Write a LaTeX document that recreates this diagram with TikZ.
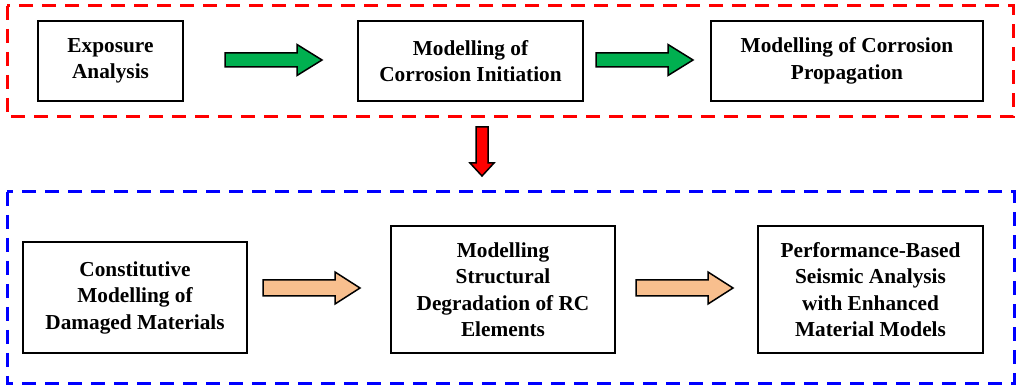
\documentclass[tikz,border=0pt]{standalone}
\usepackage{fontspec}
\setmainfont{Liberation Serif}
\usetikzlibrary{calc}
\definecolor{arrowgreen}{HTML}{00B050}
\definecolor{arrowred}{HTML}{FF0000}
\definecolor{arrowpeach}{HTML}{F8BF8E}
\definecolor{framered}{HTML}{FF0000}
\definecolor{frameblue}{HTML}{0000FF}
% horizontal block arrow: #1 tail, #2 tip, #3 shaft half-width, #4 head half-width, #5 fill
\newcommand\blockarrowright[5]{%
  \draw[blockarrow, fill=#5]
    ($(#1)+(0,-#3)$) -- ($(#2)+(-25,-#3)$) -- ($(#2)+(-25,-#4)$) -- (#2)
    -- ($(#2)+(-25,#4)$) -- ($(#2)+(-25,#3)$) -- ($(#1)+(0,#3)$) -- cycle;}
\begin{document}
\begin{tikzpicture}[x=1pt,y=-1pt,
  box/.style={draw=black, line width=2pt, fill=white, align=center,
    font=\fontsize{21.3}{26.5}\selectfont\bfseries, inner sep=0pt},
  frame/.style={line width=3pt, dash pattern=on 14pt off 9pt},
  blockarrow/.style={draw=black, line width=1.5pt, line join=miter}]
\useasboundingbox (0,0) rectangle (1018,387);

% dashed group frames
\draw[frame, framered] (7,6) rectangle (1013,117);
\draw[frame, frameblue] (7,192) rectangle (1014,384);

% corrosion stage
\node[box, minimum width=145, minimum height=80] (exp) at (110.5,61)
  {Exposure\\Analysis};
\node[box, minimum width=225, minimum height=80] (init) at (470.5,61)
  {Modelling of\\Corrosion Initiation};
\node[box, minimum width=272, minimum height=80] (prop) at (847,61)
  {Modelling of Corrosion\\Propagation};

% structural stage
\node[box, minimum width=224, minimum height=111] (const) at (135,297.5)
  {Constitutive\\Modelling of\\Damaged Materials};
\node[box, minimum width=224, minimum height=127] (struct) at (503,289.5)
  {Modelling\\Structural\\Degradation of RC\\Elements};
\node[box, minimum width=225, minimum height=127] (perf) at (870.5,289.5)
  {Performance-Based\\Seismic Analysis\\with Enhanced\\Material Models};

% arrow end points
\coordinate (g1a) at (225,60);  \coordinate (g1b) at (322,60);
\coordinate (g2a) at (596,60);  \coordinate (g2b) at (693,60);
\coordinate (p1a) at (263,288); \coordinate (p1b) at (360,288);
\coordinate (p2a) at (636,288); \coordinate (p2b) at (733,288);
\coordinate (dna) at (482,127); \coordinate (dnb) at (482,176);

\blockarrowright{g1a}{g1b}{7}{15.5}{arrowgreen}
\blockarrowright{g2a}{g2b}{7}{15.5}{arrowgreen}
\blockarrowright{p1a}{p1b}{8}{16}{arrowpeach}
\blockarrowright{p2a}{p2b}{8}{16}{arrowpeach}

% downward link between the two stages
\draw[blockarrow, fill=arrowred]
  ($(dna)+(-6,0)$) -- ($(dnb)+(-6,-13)$) -- ($(dnb)+(-12,-13)$) -- (dnb)
  -- ($(dnb)+(12,-13)$) -- ($(dnb)+(6,-13)$) -- ($(dna)+(6,0)$) -- cycle;
\end{tikzpicture}
\end{document}
